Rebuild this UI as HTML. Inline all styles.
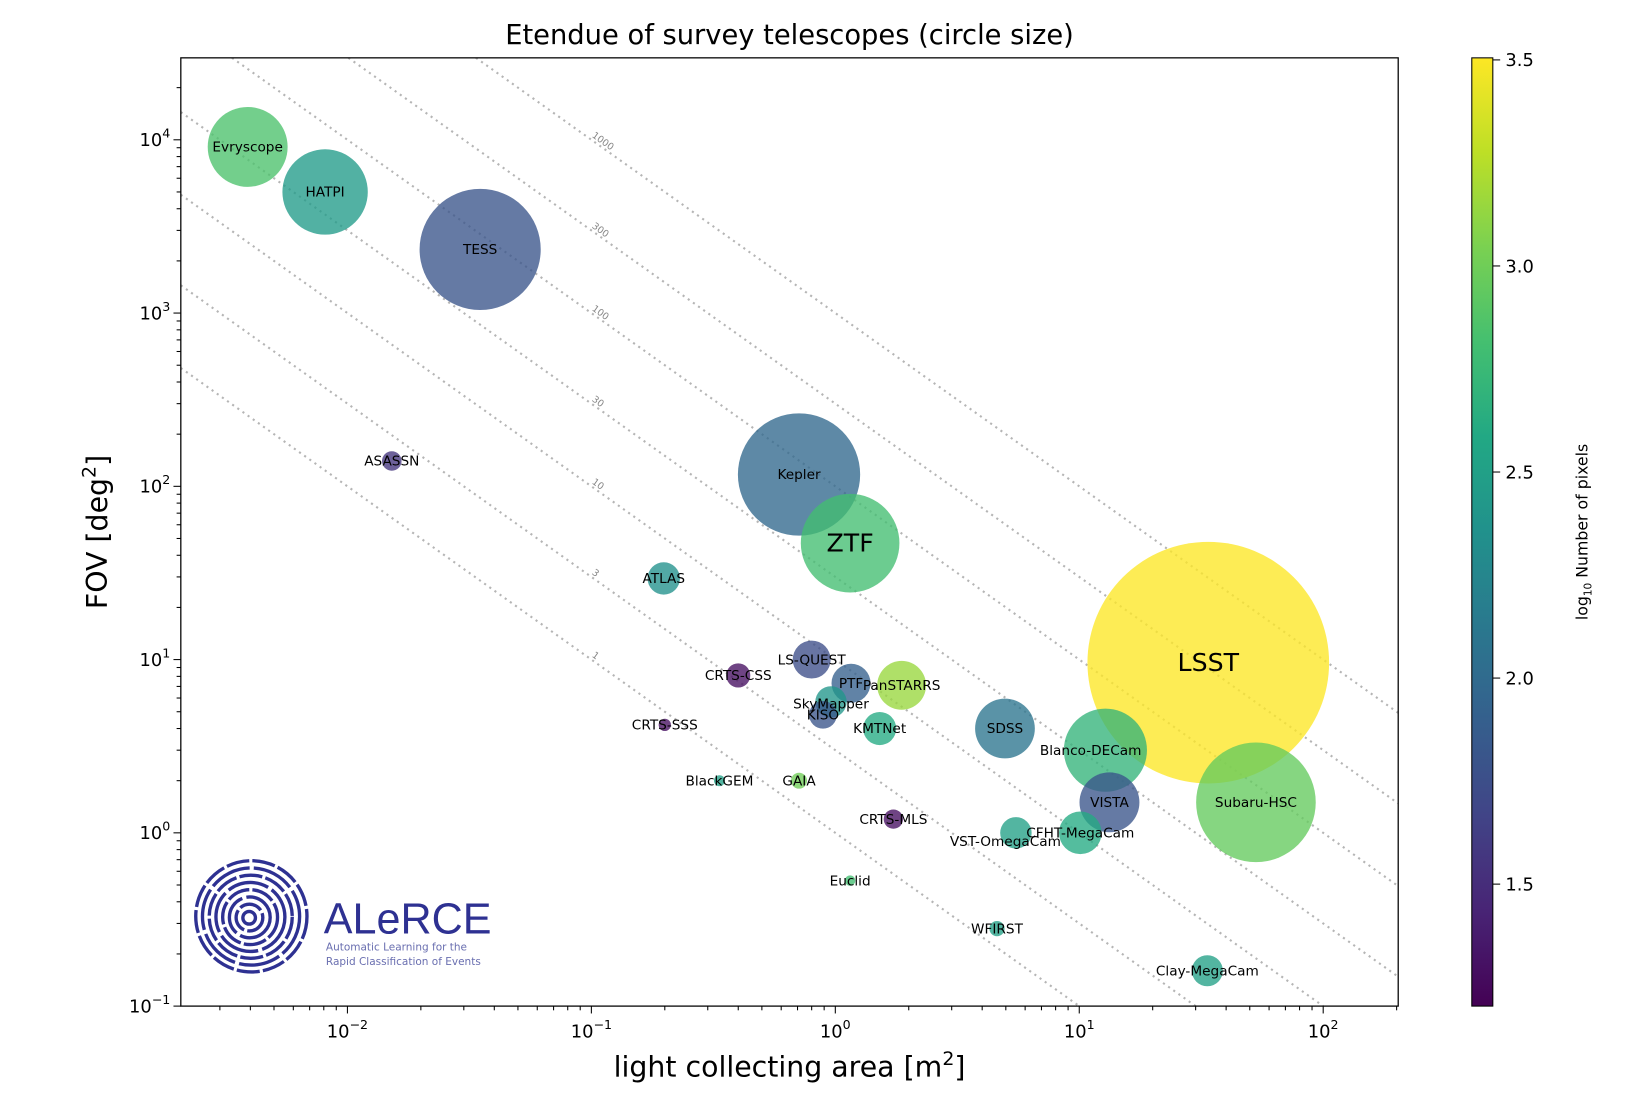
<!DOCTYPE html>
<html><head><meta charset="utf-8"><style>
html,body{margin:0;padding:0;background:#fff;width:1640px;height:1106px;overflow:hidden}
svg{display:block}
text{font-family:"DejaVu Sans","Liberation Sans",sans-serif}
</style></head><body>
<svg id="chart" width="1640" height="1106" viewBox="0 0 1560 1052" xmlns="http://www.w3.org/2000/svg">
<defs>
<clipPath id="plotclip"><rect x="172" y="55" width="1158" height="902"/></clipPath>
<linearGradient id="cbgrad" x1="0" y1="1" x2="0" y2="0"></linearGradient>
</defs>
<text x="751" y="42" font-size="26" text-anchor="middle">Etendue of survey telescopes (circle size)</text>
<g id="lines" clip-path="url(#plotclip)"></g>
<g id="circles" clip-path="url(#plotclip)"></g>
<g id="labels"></g>
<g id="logo">
<text x="308" y="888" font-size="41" fill="#2e3192" style="font-family:'Liberation Sans',sans-serif">ALeRCE</text>
<text x="310" y="904" font-size="10" fill="#6a6fb0">Automatic Learning for the</text>
<text x="310" y="918" font-size="10" fill="#6a6fb0">Rapid Classification of Events</text>
</g>
<rect x="172" y="55" width="1158" height="902" fill="none" stroke="#000" stroke-width="1.2"/>
<g id="xaxis"></g>
<g id="yaxis"></g>
<text x="751" y="1024" font-size="27" text-anchor="middle">light collecting area [m<tspan font-size="18" dy="-11">2</tspan><tspan dy="11">]</tspan></text>
<text transform="translate(102,506) rotate(-90)" font-size="27" text-anchor="middle">FOV [deg<tspan font-size="18" dy="-11">2</tspan><tspan dy="11">]</tspan></text>
<rect x="1400" y="55" width="20" height="902" fill="url(#cbgrad)" stroke="#000" stroke-width="1"/>
<g id="cbaxis"></g>
<text transform="translate(1510,506) rotate(-90)" font-size="15" text-anchor="middle">log<tspan font-size="10" dy="4">10</tspan><tspan dy="-4"> Number of pixels</tspan></text>
</svg>
<script>
const names=["Evryscope","HATPI","TESS","ASASSN","Kepler","ZTF","ATLAS","LS-QUEST","CRTS-CSS","CRTS-SSS","PTF","PanSTARRS","SkyMapper","KISO","KMTNet","SDSS","Blanco-DECam","LSST","VISTA","Subaru-HSC","BlackGEM","GAIA","CRTS-MLS","VST-OmegaCam","CFHT-MegaCam","Euclid","WFIRST","Clay-MegaCam"];
const area=[0.0039,0.0081,0.035,0.0152,0.71,1.15,0.198,0.80,0.40,0.20,1.16,1.87,0.96,0.89,1.52,4.96,12.8,33.8,13.3,53,0.335,0.71,1.73,5.5,10.1,1.15,4.6,33.5];
const fov=[9100,5000,2330,140,117,47,29.4,10,8.1,4.2,7.3,7.1,5.7,4.8,4.0,4.0,3.0,9.6,1.5,1.5,2.0,2.0,1.2,1.0,1.0,0.53,0.28,0.16];
const logpix=[2.85,2.45,1.8,1.55,1.98,2.8,2.35,1.75,1.3,1.3,1.9,3.15,2.4,1.8,2.6,2.1,2.7,3.5,1.8,2.95,2.5,3.0,1.3,2.5,2.6,2.8,2.5,2.5];
const etendueLevels=[1,3,10,30,100,300,1000];
const xTicks=[-2,-1,0,1,2];
const yTicks=[-1,0,1,2,3,4];
const cbTicks=["1.5","2.0","2.5","3.0","3.5"];

const NS="http://www.w3.org/2000/svg";
const X0=172,X1=1330,Y0=55,Y1=957;
const xmin=Math.log10(0.002075),xmax=Math.log10(203);
const ymin=-1,ymax=4.473;
const sx=v=>X0+(Math.log10(v)-xmin)/(xmax-xmin)*(X1-X0);
const sy=v=>Y1-(Math.log10(v)-ymin)/(ymax-ymin)*(Y1-Y0);
const cmin=1.204,cmax=3.505;
const sc=v=>Y1-(v-cmin)/(cmax-cmin)*(Y1-Y0);
const vir=[[68,1,84],[72,36,117],[65,68,135],[53,95,141],[42,120,142],[33,145,140],[34,168,132],[68,191,112],[122,209,81],[189,223,38],[253,231,37]];
function viridis(t){t=Math.max(0,Math.min(1,t));const f=t*10,i=Math.min(9,Math.floor(f)),u=f-i;const a=vir[i],b=vir[i+1];return "rgb("+a.map((c,k)=>Math.round(c+(b[k]-c)*u)).join(",")+")";}
function el(tag,attrs,parent){const e=document.createElementNS(NS,tag);for(const k in attrs)e.setAttribute(k,attrs[k]);parent.appendChild(e);return e;}

const grad=document.getElementById("cbgrad");
for(let i=0;i<=20;i++){el("stop",{offset:(i/20),"stop-color":viridis(i/20)},grad);}

const lg=document.getElementById("lines"),lab=document.getElementById("labels");
const XMINV=Math.pow(10,xmin),XMAXV=Math.pow(10,xmax),YMINV=Math.pow(10,ymin),YMAXV=Math.pow(10,ymax);
etendueLevels.forEach(c=>{
  const xa=Math.max(XMINV,c/YMAXV),xb=Math.min(XMAXV,c/YMINV);
  const l=el("line",{x1:sx(xa),y1:sy(c/xa),x2:sx(xb),y2:sy(c/xb),stroke:"#b5b5b5","stroke-width":2,"stroke-dasharray":"2,4"},lg);
  
  
  const lx=0.1, px=sx(lx), py=sy(c/lx)-3;
  const t=el("text",{x:px,y:py,"font-size":9,fill:"#888",transform:`rotate(35.4 ${px} ${py})`},lab);
  t.textContent=c;
  
  
});

const cg=document.getElementById("circles");
const k=6.38;
const order=names.map((n,i)=>i).sort((a,b)=>area[b]*fov[b]-area[a]*fov[a]);
order.forEach(i=>{
  const c=el("circle",{cx:sx(area[i]),cy:sy(fov[i]),r:k*Math.sqrt(area[i]*fov[i]),fill:viridis((logpix[i]-cmin)/(cmax-cmin)),"fill-opacity":0.78},cg);
  
  
});
const offs={"VST-OmegaCam":[-10,8],"Blanco-DECam":[-14,0],"SkyMapper":[0,2]};
names.forEach((n,i)=>{
  const big=(n==="LSST"||n==="ZTF");
  const o=offs[n]||[0,0];
  const t=el("text",{x:sx(area[i])+o[0],y:sy(fov[i])+o[1]+(big?8:4.5),"font-size":big?24:13,"text-anchor":"middle",fill:"#000"},lab);
  t.textContent=n;
  
  
});

const xa=document.getElementById("xaxis"),ya=document.getElementById("yaxis"),ca=document.getElementById("cbaxis");
for(let d=-3;d<=2;d++){for(let m=1;m<10;m++){const v=m*Math.pow(10,d);const p=sx(v);if(p<X0-0.5||p>X1+0.5)continue;
  const tk=el("line",{x1:p,y1:Y1,x2:p,y2:Y1+(m===1?7:4),stroke:"#000","stroke-width":1},xa);
  
  }}
xTicks.forEach(d=>{const t=el("text",{x:sx(Math.pow(10,d)),y:Y1+30,"font-size":17,"text-anchor":"middle"},xa);
  t.innerHTML="10<tspan font-size='12' dy='-8'>"+(d<0?"\u2212"+(-d):d)+"</tspan>";
  
  });
for(let d=-1;d<=4;d++){for(let m=1;m<10;m++){const v=m*Math.pow(10,d);const p=sy(v);if(p<Y0-0.5||p>Y1+0.5)continue;
  const tk=el("line",{x1:X0,y1:p,x2:X0-(m===1?7:4),y2:p,stroke:"#000","stroke-width":1},ya);
  
  }}
yTicks.forEach(d=>{const t=el("text",{x:X0-10,y:sy(Math.pow(10,d))+6,"font-size":17,"text-anchor":"end"},ya);
  t.innerHTML="10<tspan font-size='12' dy='-8'>"+(d<0?"\u2212"+(-d):d)+"</tspan>";
  
  });
cbTicks.forEach(s=>{const p=sc(parseFloat(s));
  const tk=el("line",{x1:1420,y1:p,x2:1427,y2:p,stroke:"#000"},ca);
  
  
  const t=el("text",{x:1432,y:p+6,"font-size":17},ca);t.textContent=s;
  
  });

const lgo=document.getElementById("logo");
const lcx=237,lcy=873;
for(let j=0;j<8;j++){const r=6+j*6.7;
  const c=el("circle",{cx:lcx+j*0.3,cy:lcy-j*0.2,r:r,fill:"none",stroke:"#2e3192","stroke-width":3.2,"stroke-dasharray":j%2?"22,3":"40,4"},lgo);
  
  }
</script>
</body></html>
